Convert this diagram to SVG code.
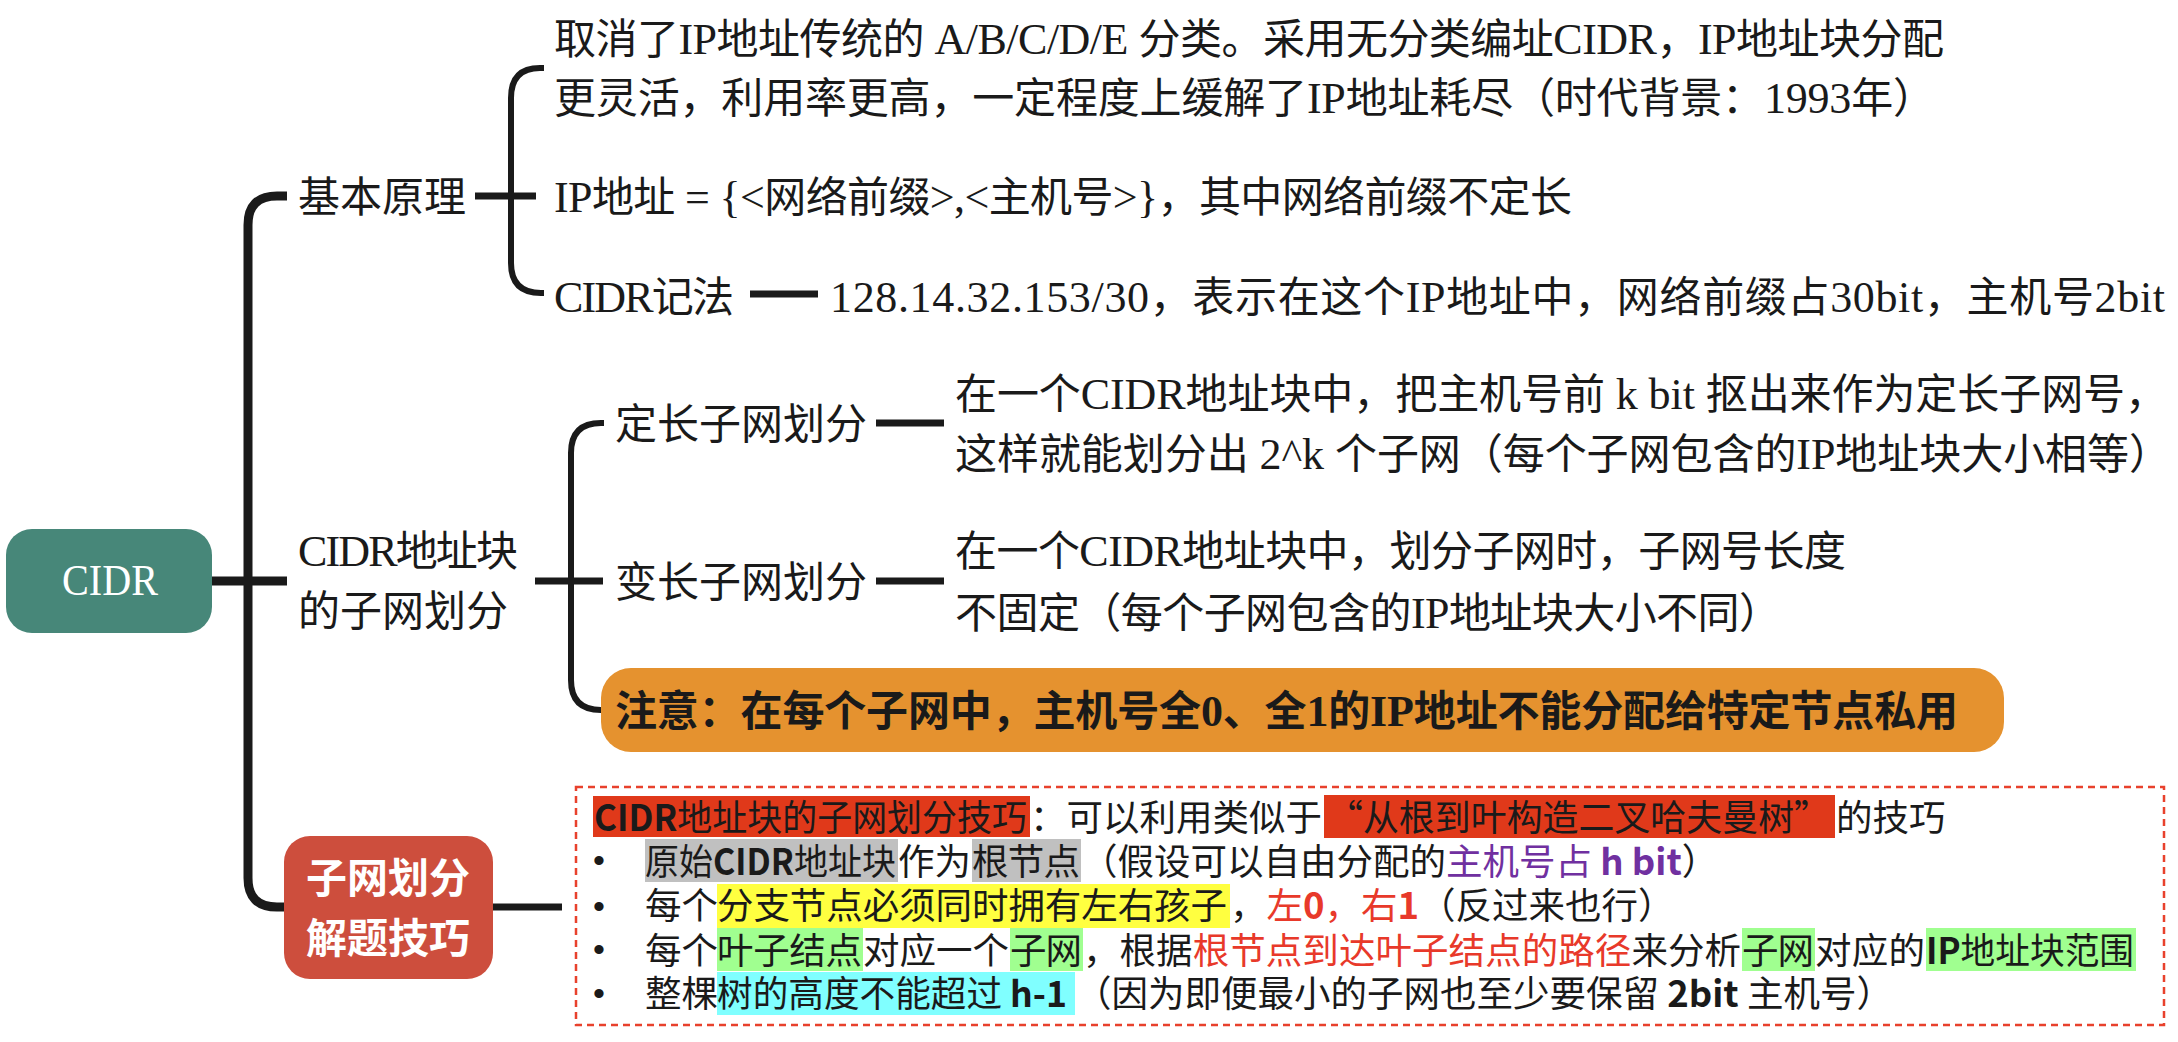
<svg xmlns="http://www.w3.org/2000/svg" width="2178" height="1042" viewBox="0 0 2178 1042">
<style>
.t{font-family:"Liberation Serif","Noto Sans CJK SC",serif;font-size:42px;fill:#1a1a1a}
.L{font-family:"Liberation Serif",serif;font-size:44px}
.nb{font-weight:bold}
.b{font-family:"Noto Sans CJK SC",sans-serif;font-size:36.5px;fill:#1a1a1a}
.bb{font-weight:bold}
.bul{font-family:"Liberation Sans",sans-serif;font-size:34px;fill:#1a1a1a}
.ln{stroke:#1a1a1a;fill:none}
.w8{stroke-width:9}
.w7{stroke-width:7}
.w6{stroke-width:6}
.red{fill:#E8392A}
.pur{fill:#7030A0}
</style>
<rect width="2178" height="1042" fill="#ffffff"/>
<g id="connectors">
<path class="ln w8" d="M212 581 H287"/>
<path class="ln w8" d="M287 196 H277 Q248 196 248 225 V878 Q248 907 277 907 H285"/>
<path class="ln w7" d="M475 196 H536"/>
<path class="ln w6" d="M544 68 H540 Q511 68 511 98 V263 Q511 293 541 293 H544"/>
<path class="ln w7" d="M750 294 H818"/>
<path class="ln w7" d="M535 581 H603"/>
<path class="ln w6" d="M604 423 H601 Q571 423 571 453 V680 Q571 710 601 710 H602"/>
<path class="ln w7" d="M876 423 H944"/>
<path class="ln w7" d="M876 581 H944"/>
<path class="ln w7" d="M493 907 H562"/>
</g>
<g id="root">
<rect x="6" y="529" width="206" height="104" rx="26" fill="#478779"/>
<text x="62" y="595" font-family="Liberation Serif, serif" font-size="44" fill="#ffffff" textLength="96" lengthAdjust="spacingAndGlyphs">CIDR</text>
</g>
<g id="basic">
<text class="t" x="298" y="212">基本原理</text>
</g>
<g id="basic-1">
<text class="t" x="554" y="54" textLength="1390" lengthAdjust="spacing">取消了<tspan class="L">IP</tspan>地址传统的<tspan class="L"> A/B/C/D/E </tspan>分类。采用无分类编址<tspan class="L">CIDR</tspan>，<tspan class="L">IP</tspan>地址块分配</text>
<text class="t" x="554" y="113" textLength="1381" lengthAdjust="spacing">更灵活，利用率更高，一定程度上缓解了<tspan class="L">IP</tspan>地址耗尽（时代背景：<tspan class="L">1993</tspan>年）</text>
</g>
<g id="basic-2">
<text class="t" x="554" y="212" textLength="1018" lengthAdjust="spacing"><tspan class="L">IP</tspan>地址<tspan class="L"> = {&lt;</tspan>网络前缀<tspan class="L">&gt;,&lt;</tspan>主机号<tspan class="L">&gt;}</tspan>，其中网络前缀不定长</text>
</g>
<g id="basic-3">
<text class="t" x="554" y="312" textLength="180" lengthAdjust="spacing"><tspan class="L">CIDR</tspan>记法</text>
</g>
<g id="basic-3-1">
<text class="t" x="830" y="312" textLength="1335" lengthAdjust="spacing"><tspan class="L">128.14.32.153/30</tspan>，表示在这个<tspan class="L">IP</tspan>地址中，网络前缀占<tspan class="L">30bit</tspan>，主机号<tspan class="L">2bit</tspan></text>
</g>
<g id="subnet">
<text class="t" x="298" y="566" textLength="220" lengthAdjust="spacing"><tspan class="L">CIDR</tspan>地址块</text>
<text class="t" x="298" y="626">的子网划分</text>
</g>
<g id="fixed">
<text class="t" x="615" y="439">定长子网划分</text>
</g>
<g id="fixed-1">
<text class="t" x="955" y="409" textLength="1212" lengthAdjust="spacing">在一个<tspan class="L">CIDR</tspan>地址块中，把主机号前<tspan class="L"> k bit </tspan>抠出来作为定长子网号，</text>
<text class="t" x="955" y="469" textLength="1216" lengthAdjust="spacing">这样就能划分出<tspan class="L"> 2^k </tspan>个子网（每个子网包含的<tspan class="L">IP</tspan>地址块大小相等）</text>
</g>
<g id="variable">
<text class="t" x="615" y="597">变长子网划分</text>
</g>
<g id="variable-1">
<text class="t" x="955" y="566" textLength="891" lengthAdjust="spacing">在一个<tspan class="L">CIDR</tspan>地址块中，划分子网时，子网号长度</text>
<text class="t" x="955" y="628" textLength="826" lengthAdjust="spacing">不固定（每个子网包含的<tspan class="L">IP</tspan>地址块大小不同）</text>
</g>
<g id="note">
<rect x="601" y="668" width="1403" height="84" rx="30" fill="#E5922F"/>
<text class="t nb" x="615" y="726" textLength="1343" lengthAdjust="spacing">注意：在每个子网中，主机号全<tspan class="L">0</tspan>、全<tspan class="L">1</tspan>的<tspan class="L">IP</tspan>地址不能分配给特定节点私用</text>
</g>
<g id="tips">
<rect x="284" y="836" width="209" height="143" rx="26" fill="#CD4E3D"/>
<text x="388" y="893" text-anchor="middle" font-family="Noto Sans CJK SC, sans-serif" font-weight="bold" font-size="41" fill="#ffffff">子网划分</text>
<text x="388" y="953" text-anchor="middle" font-family="Noto Sans CJK SC, sans-serif" font-weight="bold" font-size="41" fill="#ffffff">解题技巧</text>
</g>
<g id="tips-box">
<rect x="576" y="787" width="1588" height="238" fill="none" stroke="#E8412C" stroke-width="2.5" stroke-dasharray="7 5"/>
<rect x="593" y="796" width="437" height="41" fill="#E0391A"/>
<rect x="1324" y="795" width="511" height="43" fill="#E0391A"/>
<text class="b" x="594" y="831" textLength="433" lengthAdjust="spacingAndGlyphs"><tspan class="bb">CIDR</tspan>地址块的子网划分技巧</text>
<text class="b" x="1030" y="831" textLength="292" lengthAdjust="spacing">：可以利用类似于</text>
<text class="b" x="1327" y="831" textLength="503" lengthAdjust="spacingAndGlyphs">“从根到叶构造二叉哈夫曼树”</text>
<text class="b" x="1836" y="831">的技巧</text>

<rect x="645" y="839" width="253" height="43" fill="#C0C0C0"/>
<rect x="972" y="839" width="109" height="43" fill="#C0C0C0"/>
<text class="bul" x="599" y="872" text-anchor="middle">•</text>
<text class="b" x="645" y="875" textLength="251" lengthAdjust="spacingAndGlyphs">原始<tspan class="bb">CIDR</tspan>地址块</text>
<text class="b" x="898" y="875">作为</text>
<text class="b" x="972" y="875" textLength="108" lengthAdjust="spacing">根节点</text>
<text class="b" x="1081" y="875">（假设可以自由分配的<tspan class="pur">主机号占 <tspan class="bb">h bit</tspan></tspan>）</text>

<rect x="717" y="884" width="513" height="44" fill="#FFFF40"/>
<text class="bul" x="599" y="918" text-anchor="middle">•</text>
<text class="b" x="645" y="919">每个</text>
<text class="b" x="717" y="919" textLength="510" lengthAdjust="spacing">分支节点必须同时拥有左右孩子</text>
<text class="b" x="1230" y="919">，<tspan class="red">左<tspan class="bb">0</tspan>，右<tspan class="bb">1</tspan></tspan>（反过来也行）</text>

<rect x="717" y="928" width="146" height="43" fill="#A0FF90"/>
<rect x="1010" y="928" width="73" height="43" fill="#A0FF90"/>
<rect x="1742" y="928" width="73" height="43" fill="#A0FF90"/>
<rect x="1926" y="928" width="210" height="43" fill="#A0FF90"/>
<text class="bul" x="599" y="961" text-anchor="middle">•</text>
<text class="b" x="645" y="964">每个</text>
<text class="b" x="717" y="964" textLength="145" lengthAdjust="spacing">叶子结点</text>
<text class="b" x="863" y="964" textLength="146" lengthAdjust="spacing">对应一个</text>
<text class="b" x="1010" y="964" textLength="72" lengthAdjust="spacing">子网</text>
<text class="b" x="1083" y="964" textLength="658" lengthAdjust="spacing">，根据<tspan class="red">根节点到达叶子结点的路径</tspan>来分析</text>
<text class="b" x="1742" y="964" textLength="72" lengthAdjust="spacing">子网</text>
<text class="b" x="1815" y="964" textLength="110" lengthAdjust="spacing">对应的</text>
<text class="b" x="1926" y="964" textLength="208" lengthAdjust="spacingAndGlyphs"><tspan class="bb">IP</tspan>地址块范围</text>

<rect x="717" y="972" width="358" height="43" fill="#80FFFF"/>
<text class="bul" x="599" y="1005" text-anchor="middle">•</text>
<text class="b" x="645" y="1007">整棵</text>
<text class="b" x="717" y="1007" textLength="350" lengthAdjust="spacingAndGlyphs">树的高度不能超过 <tspan class="bb">h-1</tspan></text>
<text class="b" x="1075" y="1007">（因为即便最小的子网也至少要保留 <tspan class="bb">2bit</tspan> 主机号）</text>
</g>
</svg>
